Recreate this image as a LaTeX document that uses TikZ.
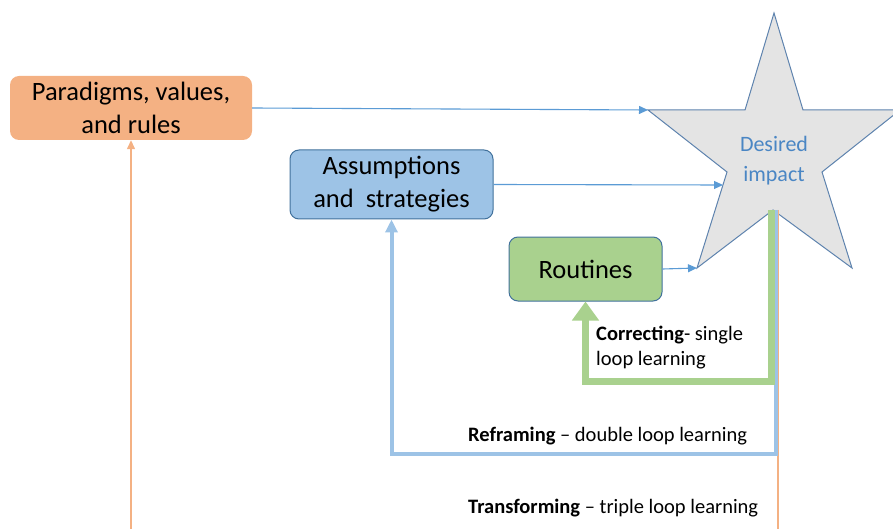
\documentclass[tikz,border=0pt]{standalone}
\usepackage{fontspec}
\setmainfont{Carlito}
\usetikzlibrary{arrows.meta}
\definecolor{orangefill}{HTML}{F4B183}
\definecolor{bluefill}{HTML}{9DC3E6}
\definecolor{greenfill}{HTML}{A9D18E}
\definecolor{boxline}{HTML}{41719C}
\definecolor{arrowblue}{HTML}{5B9BD5}
\definecolor{stargray}{HTML}{E4E4E4}
\definecolor{starline}{HTML}{5E83AE}
\definecolor{impacttext}{HTML}{4A86C4}
\begin{document}
\begin{tikzpicture}[x=1pt,y=-1pt,
  box/.style={rounded corners=9pt, align=center, inner sep=0pt,
              font=\fontsize{26.5}{33}\selectfont},
  thinarrow/.style={draw=arrowblue, line width=1.1pt,
              -{Triangle[length=9pt,width=8pt]}},
  loopnote/.style={anchor=west, align=left, inner sep=0pt,
              font=\fontsize{20.5}{25}\selectfont}]
\useasboundingbox (0,0) rectangle (893,529);

% star outline with named tips
\coordinate (sT) at (774,13);
\coordinate (sR) at (900,110);
\coordinate (sL) at (648,110);
\coordinate (sBL) at (697,268);
\coordinate (sBR) at (852,268);
\coordinate (sB) at (773,210);
\coordinate (sEdge) at (723,185);
\filldraw[fill=stargray, draw=starline, line width=1pt, line join=miter]
  (sT) -- (803,110) -- (sR) -- (822,172) -- (sBR) -- (sB) -- (sBL)
  -- (727,172) -- (sL) -- (745,110) -- cycle;
\node[text=impacttext, align=center, inner sep=0pt,
      font=\fontsize{22}{30}\selectfont] (impact) at (774,161)
  {Desired\\impact};

% boxes
\node[box, fill=orangefill, minimum width=242pt, minimum height=64pt]
  (par) at (131,108) {Paradigms, values,\\and rules};
\node[box, fill=bluefill, draw=boxline, line width=1pt,
      minimum width=203pt, minimum height=69pt]
  (ass) at (391.5,184.5) {Assumptions\\and\ \ strategies};
\node[box, fill=greenfill, draw=boxline, line width=1pt,
      minimum width=153pt, minimum height=64pt]
  (rou) at (585.5,269) {Routines};

% feed-forward arrows into the star
\draw[thinarrow] (par.east) -- (sL);
\draw[thinarrow] (ass.east) -- (sEdge);
\draw[thinarrow] (rou.east) -- (sBL);

% learning loops
\coordinate (oS) at (778,210);
\coordinate (oBR) at (778,545);
\coordinate (oBL) at (131,545);
\draw[draw=orangefill, line width=1.3pt, -{Triangle[length=9pt,width=8pt]}]
  (oS) -- (oBR) -- (oBL) -- (par.south);

\coordinate (bS) at (775.5,210);
\coordinate (bBR) at (775.5,454);
\coordinate (bBL) at (391.5,454);
\draw[draw=bluefill, line width=4pt, line join=miter,
      -{Triangle[length=13pt,width=12pt]}]
  (bS) -- (bBR) -- (bBL) -- (ass.south);

\coordinate (gS) at (771,210);
\coordinate (gBR) at (771,381);
\coordinate (gBL) at (585.5,381);
\draw[draw=greenfill, line width=7pt, line join=miter,
      -{Triangle[length=19pt,width=26pt]}]
  (gS) -- (gBR) -- (gBL) -- (rou.south);

% loop labels
\node[loopnote] (corr) at (596,348)
  {\textbf{Correcting}- single\\loop learning};
\node[loopnote] (refr) at (468,436)
  {\textbf{Reframing} – double loop learning};
\node[loopnote] (trans) at (468,508)
  {\textbf{Transforming} – triple loop learning};
\end{tikzpicture}
\end{document}
